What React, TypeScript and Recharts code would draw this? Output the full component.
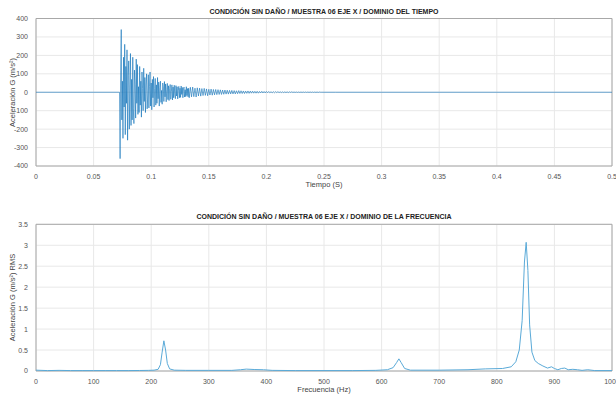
import React from "react";
import {
  LineChart,
  Line,
  XAxis,
  YAxis,
  CartesianGrid,
  ReferenceArea,
} from "recharts";

// Señal en el tiempo, tramo inicial muestreado cada 0.5 ms
const T_INICIO_A = 0.073;
const DT_A = 0.0005;
const senalA = [
  -360, 120, 340, -150, 60, -250, 190, -80, 260, -230,
  140, -60, 230, -260, 90, 170, -200, 40, 210, -180,
  70, -150, 190, -90, -170, 120, 40, -140, 180, -60,
  150, -120, 30, -110, 140, -70, 60, -135, 110, 20,
  -100, 130, -50, 80, -110, 40, 100, -90, -20, 95,
  -85, 30, 110, -75, 50, -95, 70, -30, 85, -80,
  20, 75, -70, 40, -60, 80, -35, 55, -75, 25,
  60, -55, 10, -65, 50, 30, -50, 58, -25, 45,
  -52, 15, 48, -40, 35, -45, 20, 42, -38, 5,
  40, -42, 28, -30, 38, -15, -35, 36, -20, 30,
  -36, 10, 32, -30, 22, -28, 34, -12, 26, -30,
  18, 28, -26, 14, -24, 30, -18, 20, -25, 22,
];
// cola de la señal, cada 1 ms
const T_INICIO_B = 0.133;
const DT_B = 0.001;
const senalB = [
  -30, 27, -25, 28, -24, 22, -26, 24, -20, 22,
  -21, 20, -18, 21, -17, 18, -19, 16, -15, 17,
  -16, 15, -14, 15, -13, 14, -12, 13, -12, 12,
  -11, 12, -10, 11, -10, 10, -9, 10, -9, 9,
  -9, 8, -8, 9, -7, 8, -7, 7, -7, 6,
  -6, 7, -6, 6, -5, 6, -5, 5, -5, 5,
  -5, 4, -4, 5, -4, 4, -4, 4, -3, 4,
  -3, 3, -3, 3, -3, 3, -2, 3, -2, 2,
  -2, 2, -2, 2, -2, 2, -2, 2, -1, 2,
  -1, 1, -1, 1, -1, 1, -1, 1, -1, 1,
  -1, 1, -1, 1, -1, 1, -1, 1, -1, 1,
  -1, 1, -1, 1, 0, 0, 0,
];

const ticksTiempo = [0, 0.05, 0.1, 0.15, 0.2, 0.25, 0.3, 0.35, 0.4, 0.45, 0.5];
const ticksAcel = [-400, -300, -200, -100, 0, 100, 200, 300, 400];

// Espectro
const frecuencias = [
  0, 20, 40, 60, 80, 100, 120, 140, 160, 180, 195, 205, 212, 216, 219, 222, 225, 228, 232, 240,
  260, 300, 340, 355, 365, 380, 395, 410, 450, 500, 550, 590, 610, 620, 626, 630, 634, 640, 650, 700,
  750, 780, 810, 825, 833, 839, 844, 848, 851, 854, 857, 861, 866, 872, 880, 888, 895, 900, 906, 912,
  918, 924, 932, 940, 948, 958, 970, 1000,
];
const amplitudRms = [
  0.02, 0.01, 0.015, 0.01, 0.01, 0.01, 0.01, 0.01, 0.01, 0.012, 0.015, 0.02, 0.04, 0.15, 0.45, 0.72, 0.5, 0.18, 0.05, 0.02,
  0.015, 0.015, 0.015, 0.03, 0.045, 0.035, 0.03, 0.015, 0.01, 0.01, 0.01, 0.015, 0.03, 0.08, 0.2, 0.29, 0.2, 0.06, 0.02, 0.02,
  0.03, 0.05, 0.06, 0.1, 0.22, 0.5, 1.2, 2.6, 3.07, 2.4, 1.1, 0.45, 0.25, 0.18, 0.12, 0.07, 0.1, 0.06, 0.03, 0.06,
  0.07, 0.03, 0.04, 0.03, 0.015, 0.03, 0.01, 0.01,
];
const ticksFrec = [0, 100, 200, 300, 400, 500, 600, 700, 800, 900, 1000];
const ticksRms = [0, 0.5, 1, 1.5, 2, 2.5, 3, 3.5];

const datosTiempo = [
  { t: 0, a: 0 },
  { t: 0.0725, a: 0 },
  ...senalA.map((a, i) => ({ t: T_INICIO_A + i * DT_A, a })),
  ...senalB.map((a, i) => ({ t: T_INICIO_B + i * DT_B, a })),
  { t: 0.26, a: 0 },
  { t: 0.5, a: 0 },
];
const datosFrec = frecuencias.map((f, i) => ({ f, v: amplitudRms[i] }));

const FONT = '"Liberation Sans", Arial, sans-serif';
const tickStyle = { fontSize: 7, fill: "#555", fontFamily: FONT };

const titleStyle: React.CSSProperties = {
  position: "absolute",
  left: 36,
  width: 576,
  textAlign: "center",
  fontFamily: FONT,
  fontWeight: "bold",
  fontSize: 7,
  color: "#222",
};
const xLabelStyle: React.CSSProperties = {
  position: "absolute",
  left: 36,
  width: 576,
  textAlign: "center",
  fontFamily: FONT,
  fontSize: 7.5,
  color: "#444",
};
const yLabelStyle: React.CSSProperties = {
  position: "absolute",
  width: 200,
  textAlign: "center",
  fontFamily: FONT,
  fontSize: 7.5,
  color: "#444",
  transform: "rotate(-90deg)",
  whiteSpace: "nowrap",
};

export default function App() {
  return (
    <div style={{ position: "absolute", left: 0, top: 0, width: 616, height: 394, background: "#fff" }}>
      <div style={{ ...titleStyle, top: 8 }}>CONDICIÓN SIN DAÑO / MUESTRA 06 EJE X / DOMINIO DEL TIEMPO</div>
      <div style={{ position: "absolute", left: 0, top: 0 }}>
        <LineChart width={616} height={200} data={datosTiempo} margin={{ top: 18.5, right: 4, left: 0, bottom: 14 }}>
          <CartesianGrid stroke="#e8e8e8" />
          <XAxis
            dataKey="t"
            type="number"
            domain={[0, 0.5]}
            ticks={ticksTiempo}
            tick={tickStyle}
            tickLine={false}
            axisLine={false}
            height={20}
            interval={0}
          />
          <YAxis
            type="number"
            domain={[-400, 400]}
            ticks={ticksAcel}
            tick={tickStyle}
            tickLine={false}
            axisLine={false}
            width={36}
            interval={0}
          />
          <ReferenceArea x1={0} x2={0.5} y1={-400} y2={400} fill="none" stroke="#a8a8a8" strokeOpacity={1} />
          <Line
            type="linear"
            dataKey="a"
            stroke="#0a6fb8"
            strokeOpacity={0.85}
            strokeWidth={0.7}
            dot={false}
            isAnimationActive={false}
          />
        </LineChart>
      </div>
      <div style={{ ...xLabelStyle, top: 180 }}>Tiempo (S)</div>
      <div style={{ ...yLabelStyle, left: 12 - 100, top: 88 }}>Aceleración G (m/s²)</div>

      <div style={{ ...titleStyle, top: 213 }}>CONDICIÓN SIN DAÑO / MUESTRA 06 EJE X / DOMINIO DE LA FRECUENCIA</div>
      <div style={{ position: "absolute", left: 0, top: 200 }}>
        <LineChart width={616} height={194} data={datosFrec} margin={{ top: 24.3, right: 4, left: 0, bottom: 3 }}>
          <CartesianGrid stroke="#e8e8e8" />
          <XAxis
            dataKey="f"
            type="number"
            domain={[0, 1000]}
            ticks={ticksFrec}
            tick={tickStyle}
            tickLine={false}
            axisLine={false}
            height={20}
            interval={0}
          />
          <YAxis
            type="number"
            domain={[0, 3.5]}
            ticks={ticksRms}
            tick={tickStyle}
            tickLine={false}
            axisLine={false}
            width={36}
            interval={0}
          />
          <ReferenceArea x1={0} x2={1000} y1={0} y2={3.5} fill="none" stroke="#a8a8a8" strokeOpacity={1} />
          <Line
            type="linear"
            dataKey="v"
            stroke="#5aaad8"
            strokeWidth={1}
            dot={false}
            isAnimationActive={false}
          />
        </LineChart>
      </div>
      <div style={{ ...xLabelStyle, top: 385 }}>Frecuencia (Hz)</div>
      <div style={{ ...yLabelStyle, left: 12 - 100, top: 293 }}>Aceleración G (m/s²) RMS</div>
    </div>
  );
}
